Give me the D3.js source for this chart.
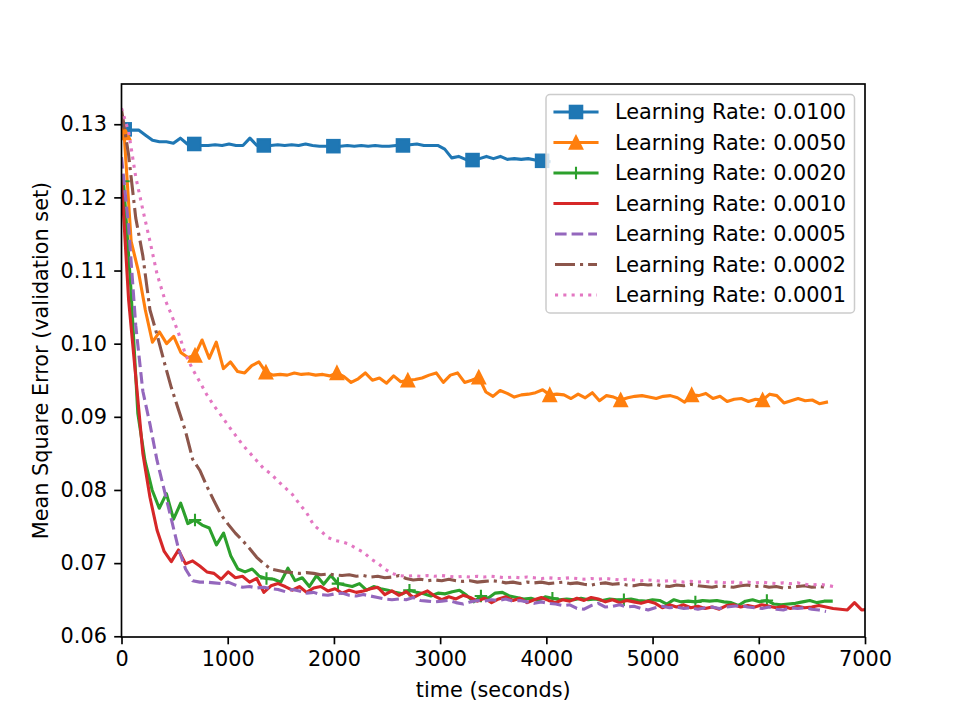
<!DOCTYPE html>
<html>
<head>
<meta charset="utf-8">
<script src="https://cdn.jsdelivr.net/npm/d3@7"></script>
<style>
    body { margin: 0; background: #fff; }
    svg { display: block; font-family: 'DejaVu Sans', sans-serif; }
</style>
</head>
<body>
<svg width="961" height="719"></svg>
<script>
// legend labels, one per run
let labels = [
    'Learning Rate: 0.0100',
    'Learning Rate: 0.0050',
    'Learning Rate: 0.0020',
    'Learning Rate: 0.0010',
    'Learning Rate: 0.0005',
    'Learning Rate: 0.0002',
    'Learning Rate: 0.0001'
];

// time of first sample and seconds between samples, per run
let startTimes = [30, 24, 19, 0, 0, 0, 0];
let sampleSteps = [65.5, 66.8, 67.3, 67, 67, 67, 67];

// validation MSE values
let lr0100 = [0.1293,0.1292,0.1292,0.1285,0.1278,0.1276,0.1276,0.1274,0.1281,0.1273,
    0.1273,0.1271,0.1271,0.1272,0.1271,0.1273,0.1271,0.1271,0.1281,0.1271,
    0.1271,0.1271,0.1272,0.1271,0.1272,0.1271,0.1273,0.1271,0.1270,0.1270,
    0.1270,0.1270,0.1271,0.1270,0.1271,0.1270,0.1271,0.1270,0.1270,0.1271,
    0.1271,0.1272,0.1273,0.1271,0.1271,0.1271,0.1266,0.1254,0.1256,0.1252,
    0.1251,0.1253,0.1256,0.1253,0.1256,0.1252,0.1253,0.1252,0.1253,0.1251,
    0.1250,0.1249];
let lr0050 = [0.1288,0.1140,0.1100,0.1046,0.1002,0.1016,0.1000,0.1010,0.0988,0.0981,
    0.0984,0.1005,0.0980,0.1002,0.0966,0.0975,0.0962,0.0960,0.0970,0.0975,
    0.0961,0.0957,0.0958,0.0957,0.0960,0.0958,0.0959,0.0957,0.0958,0.0956,
    0.0960,0.0955,0.0947,0.0952,0.0960,0.0950,0.0953,0.0946,0.0956,0.0948,
    0.0950,0.0951,0.0953,0.0957,0.0960,0.0947,0.0957,0.0960,0.0947,0.0950,
    0.0954,0.0934,0.0928,0.0936,0.0932,0.0927,0.0930,0.0931,0.0933,0.0937,
    0.0930,0.0931,0.0930,0.0925,0.0931,0.0926,0.0933,0.0922,0.0929,0.0927,
    0.0923,0.0926,0.0928,0.0929,0.0927,0.0925,0.0928,0.0929,0.0926,0.0920,
    0.0930,0.0929,0.0932,0.0925,0.0928,0.0921,0.0924,0.0925,0.0921,0.0924,
    0.0923,0.0931,0.0929,0.0919,0.0922,0.0925,0.0922,0.0923,0.0918,0.0920];
let lr0020 = [0.1222,0.1080,0.0905,0.0840,0.0800,0.0775,0.0795,0.0760,0.0782,0.0754,
    0.0759,0.0752,0.0748,0.0725,0.0741,0.0710,0.0692,0.0688,0.0692,0.0682,
    0.0679,0.0678,0.0674,0.0693,0.0676,0.0680,0.0668,0.0683,0.0671,0.0683,
    0.0672,0.0670,0.0668,0.0672,0.0663,0.0668,0.0665,0.0663,0.0660,0.0658,
    0.0663,0.0660,0.0658,0.0655,0.0659,0.0658,0.0661,0.0663,0.0656,0.0647,
    0.0655,0.0652,0.0659,0.0660,0.0655,0.0653,0.0651,0.0652,0.0649,0.0654,
    0.0652,0.0650,0.0651,0.0650,0.0652,0.0650,0.0651,0.0649,0.0651,0.0650,
    0.0650,0.0651,0.0649,0.0648,0.0650,0.0649,0.0644,0.0650,0.0647,0.0648,
    0.0647,0.0649,0.0648,0.0649,0.0647,0.0646,0.0642,0.0648,0.0650,0.0647,
    0.0649,0.0644,0.0643,0.0644,0.0645,0.0647,0.0649,0.0646,0.0648,0.0648];
let lr0010 = [0.1225,0.1060,0.0955,0.0850,0.0790,0.0745,0.0716,0.0702,0.0718,0.0699,
    0.0703,0.0696,0.0688,0.0686,0.0678,0.0688,0.0680,0.0682,0.0674,0.0679,
    0.0660,0.0669,0.0672,0.0668,0.0663,0.0668,0.0660,0.0666,0.0668,0.0662,
    0.0665,0.0659,0.0663,0.0660,0.0662,0.0665,0.0667,0.0657,0.0662,0.0656,
    0.0661,0.0653,0.0658,0.0662,0.0655,0.0650,0.0654,0.0651,0.0656,0.0653,
    0.0648,0.0652,0.0646,0.0651,0.0654,0.0649,0.0652,0.0646,0.0650,0.0653,
    0.0649,0.0646,0.0650,0.0648,0.0652,0.0649,0.0653,0.0651,0.0647,0.0650,
    0.0646,0.0649,0.0647,0.0645,0.0648,0.0645,0.0639,0.0643,0.0640,0.0643,
    0.0639,0.0641,0.0638,0.0640,0.0637,0.0642,0.0643,0.0640,0.0642,0.0640,
    0.0643,0.0641,0.0639,0.0641,0.0638,0.0641,0.0639,0.0640,0.0642,0.0640,
    0.0638,0.0637,0.0636,0.0646,0.0636,0.0637];
let lr0005 = [0.1255,0.1160,0.1025,0.0935,0.0890,0.0840,0.0800,0.0760,0.0720,0.0692,
    0.0676,0.0674,0.0674,0.0673,0.0672,0.0674,0.0670,0.0667,0.0668,0.0666,
    0.0667,0.0665,0.0664,0.0661,0.0664,0.0662,0.0659,0.0660,0.0657,0.0656,
    0.0658,0.0659,0.0656,0.0655,0.0657,0.0655,0.0653,0.0651,0.0650,0.0651,
    0.0650,0.0653,0.0649,0.0648,0.0647,0.0648,0.0649,0.0646,0.0644,0.0647,
    0.0649,0.0648,0.0650,0.0649,0.0651,0.0648,0.0649,0.0647,0.0645,0.0647,
    0.0645,0.0644,0.0642,0.0643,0.0638,0.0637,0.0642,0.0645,0.0640,0.0641,
    0.0643,0.0640,0.0641,0.0638,0.0636,0.0639,0.0641,0.0639,0.0640,0.0638,
    0.0639,0.0637,0.0639,0.0640,0.0638,0.0640,0.0641,0.0642,0.0640,0.0639,
    0.0638,0.0640,0.0637,0.0636,0.0639,0.0638,0.0639,0.0637,0.0636,0.0634];
let lr0002 = [0.1320,0.1258,0.1172,0.1120,0.1046,0.1012,0.0975,0.0940,0.0910,0.0880,
    0.0842,0.0827,0.0805,0.0785,0.0766,0.0753,0.0741,0.0731,0.0720,0.0708,
    0.0699,0.0692,0.0690,0.0688,0.0687,0.0686,0.0687,0.0686,0.0684,0.0685,
    0.0684,0.0683,0.0684,0.0682,0.0683,0.0681,0.0682,0.0680,0.0681,0.0683,
    0.0679,0.0677,0.0678,0.0676,0.0677,0.0676,0.0678,0.0676,0.0675,0.0676,
    0.0674,0.0675,0.0676,0.0675,0.0673,0.0674,0.0672,0.0674,0.0673,0.0674,
    0.0672,0.0673,0.0674,0.0672,0.0673,0.0671,0.0670,0.0672,0.0673,0.0671,
    0.0672,0.0670,0.0669,0.0671,0.0670,0.0671,0.0669,0.0668,0.0670,0.0669,
    0.0671,0.0669,0.0668,0.0667,0.0669,0.0668,0.0667,0.0669,0.0670,0.0668,
    0.0669,0.0667,0.0668,0.0666,0.0667,0.0668,0.0669,0.0667,0.0668,0.0667];
let lr0001 = [0.1322,0.1290,0.1228,0.1183,0.1140,0.1095,0.1063,0.1040,0.1015,0.0985,
    0.0965,0.0948,0.0930,0.0915,0.0902,0.0888,0.0875,0.0862,0.0851,0.0840,
    0.0829,0.0822,0.0812,0.0803,0.0794,0.0781,0.0769,0.0752,0.0744,0.0735,
    0.0731,0.0729,0.0726,0.0720,0.0715,0.0706,0.0700,0.0692,0.0686,0.0683,
    0.0682,0.0683,0.0682,0.0683,0.0682,0.0683,0.0682,0.0681,0.0682,0.0681,
    0.0682,0.0681,0.0682,0.0681,0.0680,0.0681,0.0680,0.0681,0.0680,0.0679,
    0.0680,0.0679,0.0679,0.0680,0.0679,0.0678,0.0679,0.0678,0.0679,0.0678,
    0.0677,0.0678,0.0677,0.0676,0.0677,0.0676,0.0675,0.0676,0.0675,0.0674,
    0.0675,0.0674,0.0675,0.0674,0.0674,0.0673,0.0674,0.0673,0.0674,0.0673,
    0.0674,0.0673,0.0672,0.0673,0.0672,0.0673,0.0671,0.0670,0.0671,0.0670,
    0.0668];

let seriesValues = [lr0100, lr0050, lr0020, lr0010, lr0005, lr0002, lr0001];

// axis ticks
let xTicks = [0, 1000, 2000, 3000, 4000, 5000, 6000, 7000];
let yTicks = [0.06, 0.07, 0.08, 0.09, 0.10, 0.11, 0.12, 0.13];

function main() {
    let svg = d3.select('svg'),
        margin = { top: 84, bottom: 82, left: 121.5, right: 96 },
        width = svg.attr('width') - margin.left - margin.right,
        height = svg.attr('height') - margin.top - margin.bottom;

    let colors = ['#1f77b4', '#ff7f0e', '#2ca02c', '#d62728', '#9467bd', '#8c564b', '#e377c2'],
        dashes = [null, null, null, null, '11.6,5', '20,5,3.1,5', '3.1,5.2'],
        markers = ['square', 'triangle', 'plus', null, null, null, null],
        lw = 3.1,
        fontSize = 20.8,
        tickLen = 7.3;

    //Scales
    let xScale = d3.scaleLinear().domain([0, 7000]).range([margin.left, margin.left + width]),
        yScale = d3.scaleLinear().domain([0.0599, 0.1355]).range([margin.top + height, margin.top]);

    let series = seriesValues.map((vals, k) => ({
        label: labels[k],
        color: colors[k],
        dash: dashes[k],
        marker: markers[k],
        points: vals.map((v, i) => ({ t: startTimes[k] + i * sampleSteps[k], v: v }))
    }));

    svg.append('defs')
        .append('clipPath')
        .attr('id', 'plot-clip')
        .append('rect')
        .attr('x', margin.left)
        .attr('y', margin.top)
        .attr('width', width)
        .attr('height', height);

    let line = d3.line()
        .x((d) => xScale(d.t))
        .y((d) => yScale(d.v));

    let s = 12.5 / 2;
    function drawMarker(g, type, x, y, color) {
        if (type === 'square') {
            g.append('rect')
                .attr('x', x - s).attr('y', y - s)
                .attr('width', 2 * s).attr('height', 2 * s)
                .attr('fill', color).attr('stroke', color).attr('stroke-width', 2.08);
        } else if (type === 'triangle') {
            g.append('path')
                .attr('d', `M${x},${y - s}L${x - s},${y + s}L${x + s},${y + s}Z`)
                .attr('fill', color).attr('stroke', color).attr('stroke-width', 2.08)
                .attr('stroke-linejoin', 'miter');
        } else if (type === 'plus') {
            g.append('path')
                .attr('d', `M${x - s},${y}H${x + s}M${x},${y - s}V${y + s}`)
                .attr('fill', 'none').attr('stroke', color).attr('stroke-width', 2.08);
        }
    }

    //Lines
    let plot = svg.append('g').attr('clip-path', 'url(#plot-clip)');
    series.forEach((d) => {
        let g = plot.append('g');
        g.append('path')
            .datum(d.points)
            .attr('d', line)
            .attr('fill', 'none')
            .attr('stroke', d.color)
            .attr('stroke-width', lw)
            .attr('stroke-linejoin', 'round')
            .attr('stroke-linecap', d.dash ? 'butt' : 'square')
            .attr('stroke-dasharray', d.dash);
        if (d.marker) {
            d.points.forEach((p, i) => {
                if (i % 10 === 0) drawMarker(g, d.marker, xScale(p.t), yScale(p.v), d.color);
            });
        }
    });

    //X Axis
    let xAxis = svg.append('g')
        .attr('transform', 'translate(0,' + (margin.top + height) + ')')
        .call(d3.axisBottom(xScale).tickValues(xTicks).tickFormat(d3.format('d'))
            .tickSize(tickLen).tickPadding(7.3));
    //Y Axis
    let yAxis = svg.append('g')
        .attr('transform', 'translate(' + margin.left + ',0)')
        .call(d3.axisLeft(yScale).tickValues(yTicks).tickFormat(d3.format('.2f'))
            .tickSize(tickLen).tickPadding(7.3));

    [xAxis, yAxis].forEach((ax) => {
        ax.select('.domain').remove();
        ax.selectAll('line').attr('stroke', '#000').attr('stroke-width', 1.67);
        ax.selectAll('text')
            .attr('fill', '#000')
            .style('font-size', fontSize + 'px')
            .style('font-family', "'DejaVu Sans', sans-serif");
    });

    //Frame
    svg.append('rect')
        .attr('x', margin.left)
        .attr('y', margin.top)
        .attr('width', width)
        .attr('height', height)
        .attr('fill', 'none')
        .attr('stroke', '#000')
        .attr('stroke-width', 1.67);

    //Axis labels
    svg.append('text')
        .attr('text-anchor', 'middle')
        .attr('x', margin.left + width / 2)
        .attr('y', 697)
        .style('font-size', fontSize + 'px')
        .text('time (seconds)');

    svg.append('text')
        .attr('text-anchor', 'middle')
        .attr('transform', 'translate(41,' + (margin.top + height / 2) + ') rotate(-90)')
        .attr('dy', '0.35em')
        .style('font-size', fontSize + 'px')
        .text('Mean Square Error (validation set)');

    //Legend
    let legend = svg.append('g').attr('class', 'legend');
    legend.append('rect')
        .attr('x', 546)
        .attr('y', 94.5)
        .attr('width', 308.5)
        .attr('height', 218.5)
        .attr('rx', 4)
        .attr('fill', '#fff')
        .attr('fill-opacity', 0.8)
        .attr('stroke', '#cccccc')
        .attr('stroke-width', 1.5);

    series.forEach((d, k) => {
        let cy = 112 + k * 30.5;
        let g = legend.append('g');
        g.append('line')
            .attr('x1', 555).attr('x2', 597)
            .attr('y1', cy).attr('y2', cy)
            .attr('stroke', d.color)
            .attr('stroke-width', lw)
            .attr('stroke-linecap', d.dash ? 'butt' : 'square')
            .attr('stroke-dasharray', d.dash);
        if (d.marker) drawMarker(g, d.marker, 576, cy, d.color);
        g.append('text')
            .attr('x', 615)
            .attr('y', cy)
            .attr('dy', '0.35em')
            .style('font-size', fontSize + 'px')
            .text(d.label);
    });
}

main();
</script>
</body>
</html>
